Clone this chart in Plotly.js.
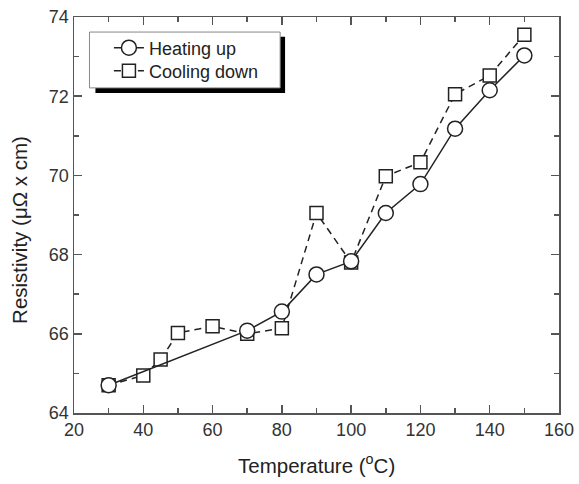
<!DOCTYPE html>
<html>
<head>
<meta charset="utf-8">
<script src="https://cdn.plot.ly/plotly-3.0.1.min.js"></script>
<style>
html,body{margin:0;padding:0;background:#fff;}
#chart{width:579px;height:484px;}
</style>
</head>
<body>
<div id="chart"></div>
<script>
// Data
const tempHeat = [30, 70, 80, 90, 100, 110, 120, 130, 140, 150];
const resHeat  = [64.7, 66.08, 66.56, 67.5, 67.83, 69.05, 69.78, 71.18, 72.15, 73.03];
const tempCool = [30, 40, 45, 50, 60, 70, 80, 90, 100, 110, 120, 130, 140, 150];
const resCool  = [64.7, 64.95, 65.35, 66.02, 66.19, 66.0, 66.14, 69.05, 67.8, 69.98, 70.33, 72.05, 72.52, 73.55];
const seriesNames = ["Heating up", "Cooling down"];
const xTitle = "Temperature (<sup>o</sup>C)";
const yTitle = "Resistivity (\u03bc\u03a9 x cm)";

const FONT = "Liberation Sans, Arial, sans-serif";
const AX = "#555";

const cool = {
  x: tempCool, y: resCool, name: seriesNames[1], type: "scatter", mode: "lines+markers",
  legend: "legend2",
  line: {color: "#222", width: 1.5, dash: "7px,5px"},
  marker: {symbol: "square", size: 13, color: "#fff", line: {color: "#222", width: 1.5}}
};
const heat = {
  x: tempHeat, y: resHeat, name: seriesNames[0], type: "scatter", mode: "lines+markers",
  legend: "legend",
  line: {color: "#222", width: 1.5},
  marker: {symbol: "circle", size: 15, color: "#fff", line: {color: "#222", width: 1.5}}
};

const axisCommon = {
  showline: true, linecolor: AX, linewidth: 1.5, mirror: "allticks",
  ticks: "inside", ticklen: 8, tickwidth: 1.5, tickcolor: AX,
  showgrid: false, zeroline: false, automargin: false,
  tickfont: {family: FONT, size: 18, color: "#333"}
};

const legendCommon = {
  xanchor: "left", yanchor: "middle",
  bgcolor: "rgba(0,0,0,0)", borderwidth: 0,
  font: {family: FONT, size: 18, color: "#222"}
};

const layout = {
  width: 579, height: 484,
  margin: {l: 73.5, r: 19.5, t: 17, b: 70.5},
  paper_bgcolor: "#fff", plot_bgcolor: "#fff",
  showlegend: true,
  xaxis: Object.assign({}, axisCommon, {
    range: [20, 160], dtick: 20, tick0: 20,
    minor: {dtick: 10, ticks: "inside", ticklen: 5, tickwidth: 1.5, tickcolor: AX}
  }),
  yaxis: Object.assign({}, axisCommon, {
    range: [64, 74], dtick: 2, tick0: 64,
    minor: {dtick: 1, ticks: "inside", ticklen: 5, tickwidth: 1.5, tickcolor: AX}
  }),
  legend: Object.assign({}, legendCommon, {x: 0.072, y: 0.9218}),
  legend2: Object.assign({}, legendCommon, {x: 0.072, y: 0.8638}),
  annotations: [
    {text: xTitle, xref: "paper", yref: "paper", x: 0.5, y: -0.13,
     xanchor: "center", yanchor: "middle", showarrow: false,
     font: {family: FONT, size: 20.5, color: "#222"}},
    {text: yTitle, xref: "paper", yref: "paper", x: -0.111, y: 0.4628, textangle: -90,
     xanchor: "center", yanchor: "middle", showarrow: false,
     font: {family: FONT, size: 20.5, color: "#222"}}
  ],
  shapes: [
    {type: "rect", xref: "paper", yref: "paper", x0: 0.0442, x1: 0.4352, y0: 0.808, y1: 0.95,
     fillcolor: "#000", line: {width: 0}, layer: "above"},
    {type: "rect", xref: "paper", yref: "paper", x0: 0.0319, x1: 0.425, y0: 0.821, y1: 0.962,
     fillcolor: "#fff", line: {color: "#888", width: 1}, layer: "above"}
  ]
};

Plotly.newPlot("chart", [cool, heat], layout, {displayModeBar: false, staticPlot: true});
</script>
</body>
</html>
